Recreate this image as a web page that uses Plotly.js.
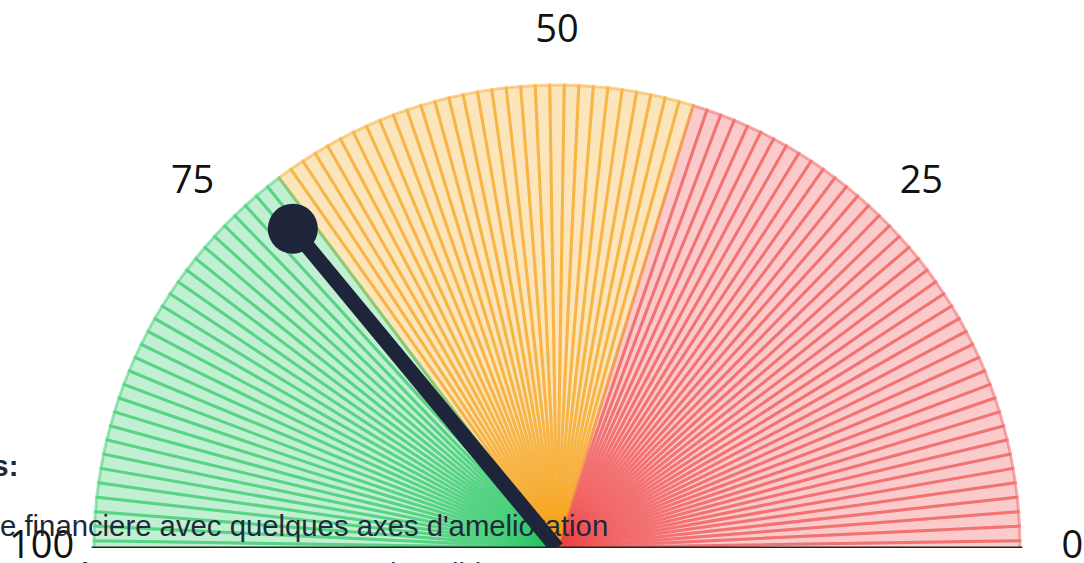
<!DOCTYPE html>
<html>
<head>
<meta charset="utf-8">
<script src="https://cdn.plot.ly/plotly-3.0.1.min.js"></script>
<style>
  html, body { margin: 0; padding: 0; width: 1084px; height: 563px; overflow: hidden; background: #ffffff; }
  #chart { position: absolute; left: 0; top: 0; width: 1084px; height: 563px; }
  .note { position: absolute; white-space: nowrap; font-family: "Liberation Sans", Arial, sans-serif;
          font-size: 29.3px; line-height: 29px; color: #1e293b; pointer-events: none; z-index: 5; }
  .bold { font-weight: bold; }
</style>
</head>
<body>
<div id="chart"></div>
<div class="note bold" style="left:-120px; top:451px;">Analyses:</div>
<div class="note" style="left:0px; top:511px;">e financiere avec quelques axes d'amelioration</div>
<div class="note" style="left:22px; top:559px;">une forme avec une tresorerie solide</div>
<script>
// ---- data ----
const gaugeValue = 72;
const gaugeMin = 0;
const gaugeMax = 100;
const bandUpper = [40, 70, 100];          // a unit belongs to the first band whose upper bound it does not exceed
const bandNames = ['faible', 'moyen', 'bon'];
const tickValues = [0, 25, 50, 75, 100];
const tickLabels = ['0', '25', '50', '75', '100'];

// ---- styles ----
const bandRGB = ['239,68,68', '245,158,11', '34,197,94'];
const needleColor = '#1e2439';
const rMax = 527 / 463;      // radial range so that the dial (r = 1) leaves room for the labels
const labelR = 1.113;

// value -> angle (degrees), 0 on the right, 100 on the left
const toTheta = v => (v - gaugeMin) / (gaugeMax - gaugeMin) * 180;

// one thin wedge centred on every unit of the scale
const theta = [], widths = [], rs = [], fills = [], lines = [];
for (let v = gaugeMin; v <= gaugeMax; v++) {
  let b = 0;
  while (v > bandUpper[b]) b++;
  theta.push(toTheta(v));
  widths.push(toTheta(1) - toTheta(0));
  rs.push(1);
  fills.push('rgba(' + bandRGB[b] + ',0.28)');
  lines.push('rgba(' + bandRGB[b] + ',0.42)');
}

const traces = [
  {
    type: 'barpolar',
    r: rs, theta: theta, width: widths,
    marker: { color: fills, line: { color: lines, width: 3 } },
    hoverinfo: 'skip', showlegend: false
  },
  {
    type: 'scatterpolar', mode: 'lines',
    r: [1.005, 1.005], theta: [toTheta(gaugeMin), toTheta(gaugeMax)],
    line: { color: '#222222', width: 3 },
    cliponaxis: false, hoverinfo: 'skip', showlegend: false
  },
  {
    type: 'scatterpolar', mode: 'lines',
    r: [0, 0.895], theta: [toTheta(gaugeValue), toTheta(gaugeValue)],
    line: { color: needleColor, width: 15 },
    cliponaxis: false, hoverinfo: 'skip', showlegend: false
  },
  {
    type: 'scatterpolar', mode: 'markers',
    r: [0.895], theta: [toTheta(gaugeValue)],
    marker: { color: needleColor, size: 50, opacity: 1, line: { width: 0 } },
    cliponaxis: false, hoverinfo: 'skip', showlegend: false
  },
  {
    type: 'scatterpolar', mode: 'text',
    r: tickValues.map(() => labelR), theta: tickValues.map(toTheta),
    text: tickLabels, textposition: 'middle center',
    textfont: { family: 'Open Sans', size: 38, color: '#111111' },
    cliponaxis: false, hoverinfo: 'skip', showlegend: false
  }
];

const layout = {
  width: 1084, height: 563,
  margin: { l: 30, r: 0, t: 21, b: 15 },
  paper_bgcolor: 'rgba(0,0,0,0)',
  plot_bgcolor: 'rgba(0,0,0,0)',
  showlegend: false,
  polar: {
    domain: { x: [0, 1], y: [0, 1] },
    sector: [0, 180],
    bgcolor: 'rgba(0,0,0,0)',
    barmode: 'overlay',
    radialaxis: { visible: false, range: [0, rMax] },
    angularaxis: {
      direction: 'counterclockwise', rotation: 0, thetaunit: 'degrees',
      showticklabels: false, ticks: '',
      showline: false, showgrid: false
    }
  }
};

Plotly.newPlot('chart', traces, layout, { staticPlot: true, displayModeBar: false });
</script>
</body>
</html>
